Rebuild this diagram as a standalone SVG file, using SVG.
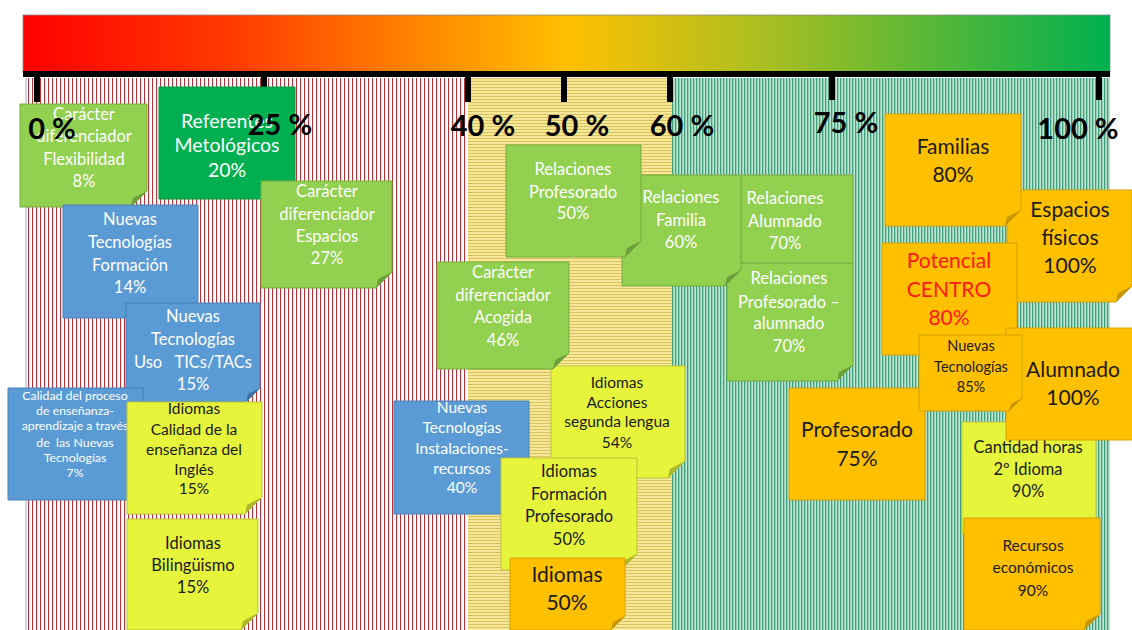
<svg xmlns="http://www.w3.org/2000/svg" width="1132" height="630" viewBox="0 0 1132 630">
<defs>
<linearGradient id="grad" x1="0" y1="0" x2="1" y2="0">
<stop offset="0" stop-color="#ff0000"/>
<stop offset="0.2" stop-color="#ff3d00"/>
<stop offset="0.35" stop-color="#ff8000"/>
<stop offset="0.5" stop-color="#ffc000"/>
<stop offset="0.66" stop-color="#b5bf1e"/>
<stop offset="1" stop-color="#00b050"/>
</linearGradient>
<pattern id="pr" width="4" height="4" patternUnits="userSpaceOnUse"><rect width="4" height="4" fill="#ffffff"/><rect width="1.1" height="4" fill="#b3343b"/></pattern>
<pattern id="py" width="4" height="3" patternUnits="userSpaceOnUse"><rect width="4" height="3" fill="#f6e79a"/><rect width="4" height="1" fill="#d8c25a"/></pattern>
<pattern id="pg" width="3" height="4" patternUnits="userSpaceOnUse"><rect width="3" height="4" fill="#bde6d2"/><rect width="1.3" height="4" fill="#3f9f7a"/></pattern>
</defs>
<style>
text{font-family:Lato,"Open Sans","DejaVu Sans",sans-serif;text-anchor:middle}
.lbl{font-weight:bold;font-size:29px;fill:#000}
.g .b{fill:#92d050;stroke:#76ad3e;stroke-width:1}
.g .f{fill:#6e9f3a}
.dg .b{fill:#00b050;stroke:#009a45;stroke-width:1}
.dg .f{fill:#00863c}
.bl .b{fill:#5b9bd5;stroke:#4a80b6;stroke-width:1}
.bl .f{fill:#3f72a6}
.y .b{fill:#e6f43c;stroke:#b9c43a;stroke-width:1}
.y .f{fill:#adb82c}
.o .b{fill:#ffc000;stroke:#d4a200;stroke-width:1}
.o .f{fill:#c79600}
.w{fill:#ffffff}
.k{fill:#1a1a1a}
.r{fill:#ff1a1a}
.s17{font-size:16.5px}
.s16{font-size:15.5px}
.s15{font-size:14.5px}
.s12{font-size:12.3px}
.s21{font-size:21px}
.s20{font-size:19.5px}
</style>
<rect width="1132" height="630" fill="#ffffff"/>
<g id="background">
<rect x="26" y="78" width="442" height="552" fill="url(#pr)"/>
<rect x="468" y="78" width="204" height="552" fill="url(#py)"/>
<rect x="672" y="78" width="438" height="552" fill="url(#pg)"/>
<line x1="26" y1="78" x2="26" y2="630" stroke="#9aaac4" stroke-width="1"/>
<rect x="23" y="15" width="1087" height="57" fill="url(#grad)" stroke="#8a8a8a" stroke-width="0.8"/>
<rect x="23" y="71" width="1087" height="6" fill="#000"/>
<rect x="34" y="74" width="6" height="28" fill="#000"/>
<rect x="261" y="74" width="6" height="28" fill="#000"/>
<rect x="465" y="74" width="6" height="28" fill="#000"/>
<rect x="561" y="74" width="6" height="28" fill="#000"/>
<rect x="667" y="74" width="6" height="28" fill="#000"/>
<rect x="829" y="74" width="6" height="26" fill="#000"/>
<rect x="1096" y="74" width="6" height="26" fill="#000"/>
</g>
<g id="n-referentes" class="dg"><polygon class="b" points="159,87 295,87 295,183 279,199 159,199"/><polygon class="f" points="295,183 281,190 279,199"/>
<text class="w s20"><tspan x="227" y="128">Referentes</tspan><tspan x="227" y="152">Metológicos</tspan><tspan x="227" y="177">20%</tspan></text></g>
<g id="n-flexibilidad" class="g"><polygon class="b" points="20,104 147,104 147,191 131,207 20,207"/><polygon class="f" points="147,191 133,198 131,207"/>
<text class="w s17"><tspan x="84" y="120">Carácter</tspan><tspan x="84" y="142">diferenciador</tspan><tspan x="84" y="165">Flexibilidad</tspan><tspan x="84" y="187">8%</tspan></text></g>
<g id="n-espacios27" class="g"><polygon class="b" points="261,181 392,181 392,272 376,288 261,288"/><polygon class="f" points="392,272 378,279 376,288"/>
<text class="w s17"><tspan x="327" y="197">Carácter</tspan><tspan x="327" y="220">diferenciador</tspan><tspan x="327" y="242">Espacios</tspan><tspan x="327" y="264">27%</tspan></text></g>
<g id="n-formacion14" class="bl"><polygon class="b" points="63,205 198,205 198,302 182,318 63,318"/><polygon class="f" points="198,302 184,309 182,318"/>
<text class="w s17"><tspan x="130" y="225">Nuevas</tspan><tspan x="130" y="248">Tecnologías</tspan><tspan x="130" y="271">Formación</tspan><tspan x="130" y="293">14%</tspan></text></g>
<g id="n-uso" class="bl"><polygon class="b" points="126,303 260,303 260,388 246,402 126,402"/><polygon class="f" points="260,388 248,394 246,402"/>
<text class="w s17" style="white-space:pre"><tspan x="193" y="322">Nuevas</tspan><tspan x="193" y="345">Tecnologías</tspan><tspan x="193" y="368">Uso   TICs/TACs</tspan><tspan x="193" y="390">15%</tspan></text></g>
<g id="n-calidadproceso" class="bl"><polygon class="b" points="8,388 143,388 143,484 127,500 8,500"/><polygon class="f" points="143,484 129,491 127,500"/>
<text class="w s12" style="white-space:pre"><tspan x="75" y="400">Calidad del proceso</tspan><tspan x="75" y="415">de enseñanza-</tspan><tspan x="75" y="430">aprendizaje a través</tspan><tspan x="75" y="447">de  las Nuevas</tspan><tspan x="75" y="462">Tecnologías</tspan><tspan x="75" y="477">7%</tspan></text></g>
<g id="n-idiomascalidad" class="y"><polygon class="b" points="127,402 262,402 262,497 245,514 127,514"/><polygon class="f" points="262,497 247,505 245,514"/>
<text class="k s16"><tspan x="194" y="414">Idiomas</tspan><tspan x="194" y="435">Calidad de la</tspan><tspan x="194" y="455">enseñanza del</tspan><tspan x="194" y="475">Inglés</tspan><tspan x="194" y="494">15%</tspan></text></g>
<g id="n-bilinguismo" class="y"><polygon class="b" points="127,519 258,519 258,613 241,630 127,630"/><polygon class="f" points="258,613 243,621 241,630"/>
<text class="k s17"><tspan x="193" y="549">Idiomas</tspan><tspan x="193" y="571">Bilingüismo</tspan><tspan x="193" y="593">15%</tspan></text></g>
<g id="n-relprofalum" class="g"><polygon class="b" points="727,263 853,263 853,365 837,381 727,381"/><polygon class="f" points="853,365 839,372 837,381"/>
<text class="w s17"><tspan x="789" y="284">Relaciones</tspan><tspan x="789" y="308">Profesorado –</tspan><tspan x="789" y="329">alumnado</tspan><tspan x="789" y="352">70%</tspan></text></g>
<g id="n-relalumnado" class="g"><polygon class="b" points="741,175 853,175 853,263 741,263"/>
<text class="w s17"><tspan x="785" y="204">Relaciones</tspan><tspan x="785" y="227">Alumnado</tspan><tspan x="785" y="249">70%</tspan></text></g>
<g id="n-relfamilia" class="g"><polygon class="b" points="622,175 741,175 741,270 725,286 622,286"/><polygon class="f" points="741,270 727,277 725,286"/>
<text class="w s17"><tspan x="681" y="203">Relaciones</tspan><tspan x="681" y="226">Familia</tspan><tspan x="681" y="248">60%</tspan></text></g>
<g id="n-relprofesorado" class="g"><polygon class="b" points="506,145 641,145 641,241 625,257 506,257"/><polygon class="f" points="641,241 627,248 625,257"/>
<text class="w s17"><tspan x="573" y="175">Relaciones</tspan><tspan x="573" y="198">Profesorado</tspan><tspan x="573" y="219">50%</tspan></text></g>
<g id="n-acciones" class="y"><polygon class="b" points="551,366 685,366 685,461 668,478 551,478"/><polygon class="f" points="685,461 670,469 668,478"/>
<text class="k s16"><tspan x="617" y="388">Idiomas</tspan><tspan x="617" y="408">Acciones</tspan><tspan x="617" y="427">segunda lengua</tspan><tspan x="617" y="448">54%</tspan></text></g>
<g id="n-acogida" class="g"><polygon class="b" points="437,262 569,262 569,353 553,369 437,369"/><polygon class="f" points="569,353 555,360 553,369"/>
<text class="w s17"><tspan x="503" y="278">Carácter</tspan><tspan x="503" y="301">diferenciador</tspan><tspan x="503" y="323">Acogida</tspan><tspan x="503" y="346">46%</tspan></text></g>
<g id="n-instalaciones" class="bl"><polygon class="b" points="394,401 529,401 529,498 513,514 394,514"/><polygon class="f" points="529,498 515,505 513,514"/>
<text class="w s16"><tspan x="462" y="413">Nuevas</tspan><tspan x="462" y="433">Tecnologías</tspan><tspan x="462" y="454">Instalaciones-</tspan><tspan x="462" y="474">recursos</tspan><tspan x="462" y="493">40%</tspan></text></g>
<g id="n-formacionprof" class="y"><polygon class="b" points="501,458 637,458 637,554 621,570 501,570"/><polygon class="f" points="637,554 623,561 621,570"/>
<text class="k s17"><tspan x="569" y="477">Idiomas</tspan><tspan x="569" y="500">Formación</tspan><tspan x="569" y="522">Profesorado</tspan><tspan x="569" y="545">50%</tspan></text></g>
<g id="n-idiomas" class="o"><polygon class="b" points="510,558 625,558 625,616 611,630 510,630"/><polygon class="f" points="625,616 613,622 611,630"/>
<text class="k s21"><tspan x="567" y="582">Idiomas</tspan><tspan x="567" y="610">50%</tspan></text></g>
<g id="n-espaciosfisicos" class="o"><polygon class="b" points="1007,190 1132,190 1132,286 1116,302 1007,302"/><polygon class="f" points="1132,286 1118,293 1116,302"/>
<text class="k s21"><tspan x="1070" y="217">Espacios</tspan><tspan x="1070" y="245">físicos</tspan><tspan x="1070" y="273">100%</tspan></text></g>
<g id="n-familias" class="o"><polygon class="b" points="885,114 1021,114 1021,210 1005,226 885,226"/><polygon class="f" points="1021,210 1007,217 1005,226"/>
<text class="k s21"><tspan x="953" y="154">Familias</tspan><tspan x="953" y="182">80%</tspan></text></g>
<g id="n-potencial" class="o"><polygon class="b" points="882,243 1017,243 1017,339 1001,355 882,355"/><polygon class="f" points="1017,339 1003,346 1001,355"/>
<text class="r s21"><tspan x="949" y="268">Potencial</tspan><tspan x="949" y="297">CENTRO</tspan><tspan x="949" y="325">80%</tspan></text></g>
<g id="n-cantidad" class="y"><polygon class="b" points="962,422 1096,422 1096,518 1080,534 962,534"/><polygon class="f" points="1096,518 1082,525 1080,534"/>
<text class="k s17"><tspan x="1028" y="453">Cantidad horas</tspan><tspan x="1028" y="475">2º Idioma</tspan><tspan x="1028" y="497">90%</tspan></text></g>
<g id="n-recursos" class="o"><polygon class="b" points="964,518 1100,518 1100,614 1084,630 964,630"/><polygon class="f" points="1100,614 1086,621 1084,630"/>
<text class="k s16"><tspan x="1033" y="551">Recursos</tspan><tspan x="1033" y="573">económicos</tspan><tspan x="1033" y="596">90%</tspan></text></g>
<g id="n-alumnado" class="o"><polygon class="b" points="1006,328 1136,328 1136,440 1006,440"/>
<text class="k s21"><tspan x="1073" y="377">Alumnado</tspan><tspan x="1073" y="405">100%</tspan></text></g>
<g id="n-profesorado" class="o"><polygon class="b" points="789,388 925,388 925,500 789,500"/>
<text class="k s21"><tspan x="857" y="437">Profesorado</tspan><tspan x="857" y="466">75%</tspan></text></g>
<g id="n-nt85" class="o"><polygon class="b" points="919,335 1022,335 1022,398 1009,411 919,411"/><polygon class="f" points="1022,398 1011,404 1009,411"/>
<text class="k s15"><tspan x="971" y="351">Nuevas</tspan><tspan x="971" y="372">Tecnologías</tspan><tspan x="971" y="392">85%</tspan></text></g>
<g id="labels">
<text class="lbl" x="52" y="139">0 %</text>
<text class="lbl" x="280" y="135">25 %</text>
<text class="lbl" x="483" y="136">40 %</text>
<text class="lbl" x="577" y="136">50 %</text>
<text class="lbl" x="682" y="136">60 %</text>
<text class="lbl" x="846" y="133">75 %</text>
<text class="lbl" x="1078" y="139">100 %</text>
</g>
<g id="connectors"/>
</svg>
